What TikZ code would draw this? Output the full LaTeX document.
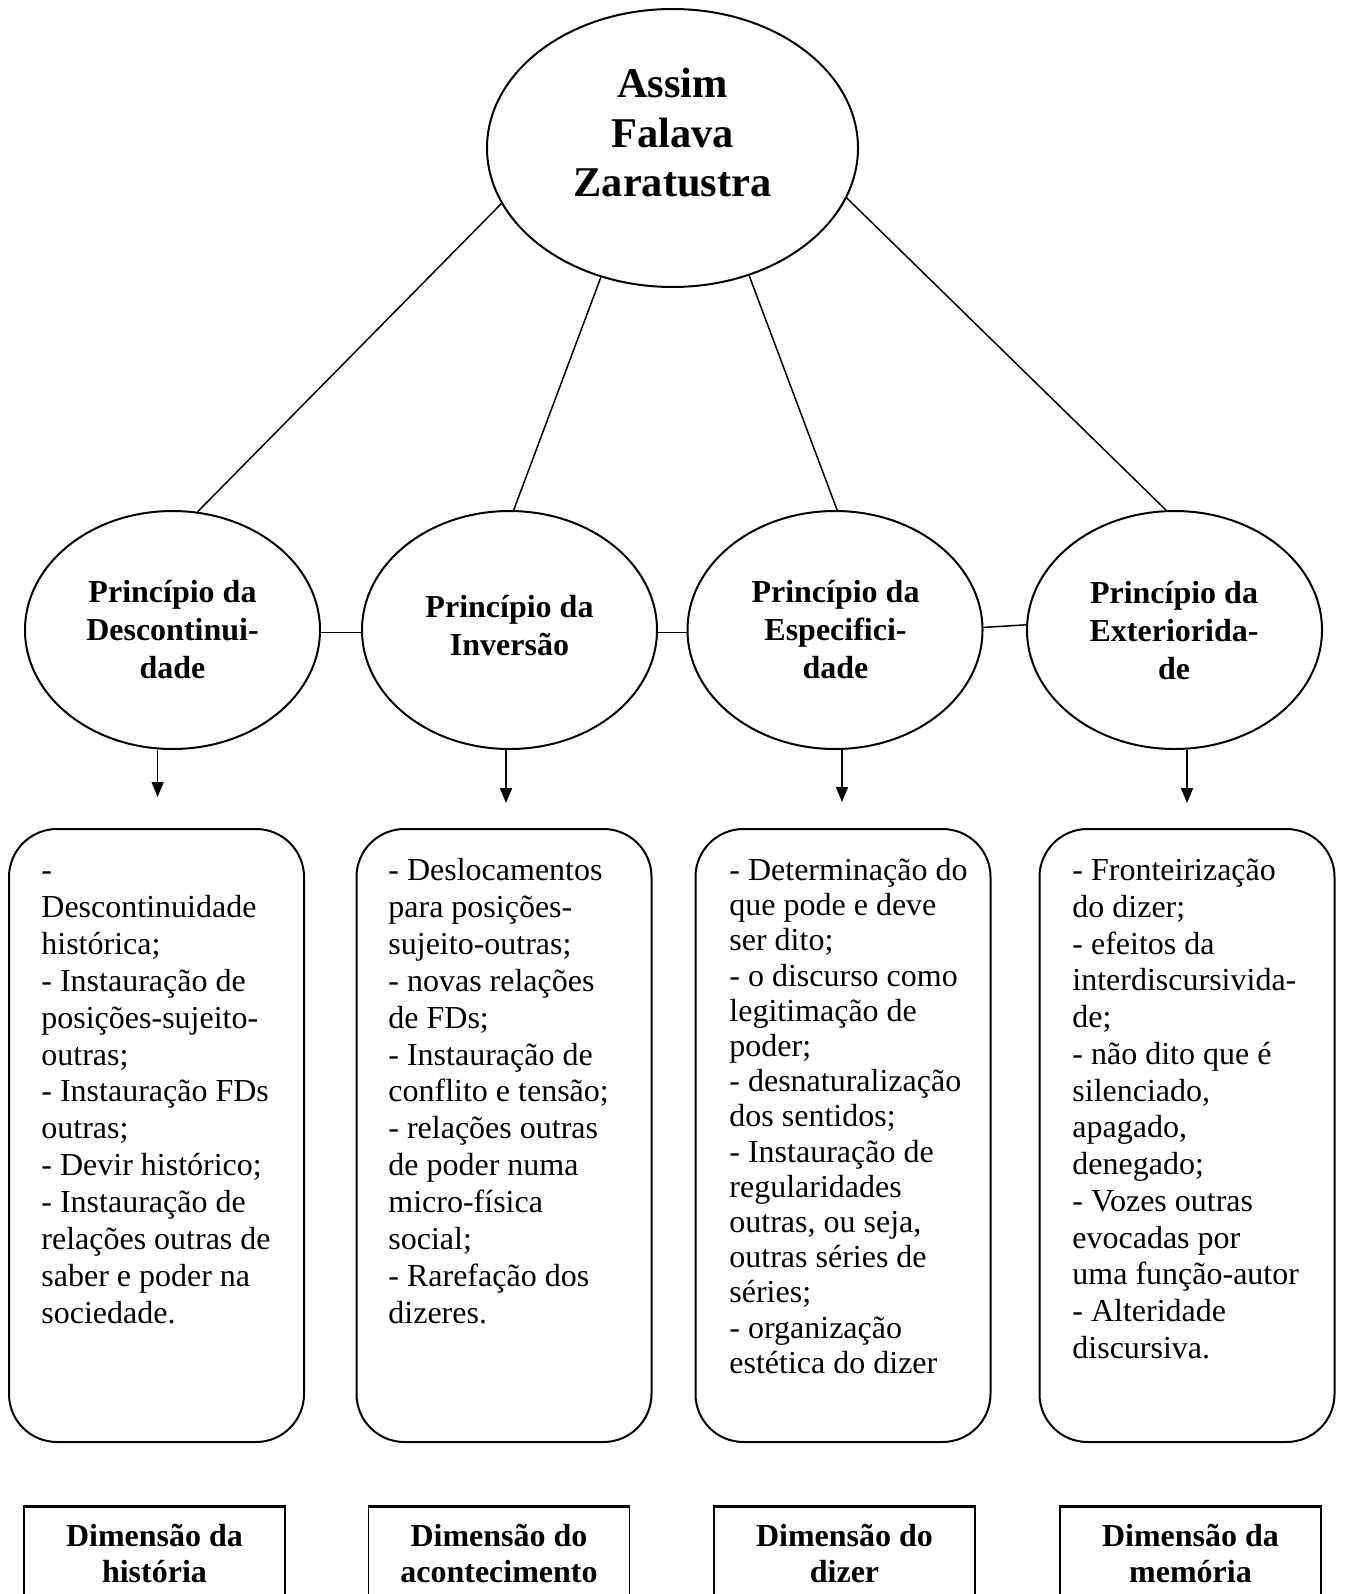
\documentclass[tikz,border=0pt]{standalone}
\usepackage{fontspec}
\setmainfont{Liberation Serif}
\usetikzlibrary{shapes.geometric,arrows.meta}
\begin{document}
\begin{tikzpicture}[x=0.5pt,y=-0.5pt,
  ell/.style={draw,ellipse,line width=1pt,minimum width=147.5pt,minimum height=119pt,inner sep=0pt},
  topell/.style={draw,ellipse,line width=1pt,minimum width=185.5pt,minimum height=139pt,inner sep=0pt},
  conn/.style={line width=0.75pt},
  arr/.style={line width=0.8pt,-{Triangle[length=7.5pt,width=6pt]}},
  ebox/.style={draw,line width=1pt,rounded corners=24pt,minimum width=147.5pt,minimum height=306.5pt,inner sep=0pt},
  btext/.style={anchor=base west,inner sep=0pt,align=left,font=\fontsize{16pt}{18.45pt}\selectfont},
  etext/.style={anchor=base,inner sep=0pt,align=center,font=\fontsize{16pt}{19pt}\selectfont\bfseries},
  ttext/.style={anchor=base,inner sep=0pt,align=center,font=\fontsize{21.2pt}{24.75pt}\selectfont\bfseries},
  dtext/.style={anchor=base,inner sep=0pt,align=center,font=\fontsize{16pt}{18.3pt}\selectfont\bfseries},
  dbox/.style={draw,line width=0.75pt,minimum width=130.5pt,minimum height=100pt,inner sep=0pt,anchor=north}
]
\useasboundingbox (0,0) rectangle (1344,1594);
\fill[white] (0,0) rectangle (1344,1594);

% top ellipse (text anchored at the baseline of its last line)
\node[topell] (top) at (672.5,148) {};
\node[ttext] (toptxt) at (672.5,197) {Assim\\Falava\\Zaratustra};

% principle ellipses
\node[ell] (e1) at (172.5,630) {};
\node[ell] (e2) at (509.5,630) {};
\node[ell] (e3) at (835,630) {};
\node[ell] (e4) at (1174.5,630) {};
\node[etext] (e1t) at (172.5,678) {Princípio da\\Descontinui-\\dade};
\node[etext] (e2t) at (509.5,655) {Princípio da\\Inversão};
\node[etext] (e3t) at (835.5,678) {Princípio da\\Especifici-\\dade};
\node[etext] (e4t) at (1174,679) {Princípio da\\Exteriorida-\\de};

% connectors from top
\draw[conn] (top.198.5) -- (e1.78.6);
\draw[conn] (top.241.7) -- (e2.88);
\draw[conn] (top.301.6) -- (e3.89);
\draw[conn] (top.344.4) -- (e4.94);

% horizontal connectors
\draw[conn] (e1.-1.4) -- (e2.181.4);
\draw[conn] (e2.-1.4) -- (e3.181.4);
\draw[conn] (e3.1.6) -- (e4.178.4);

% arrows
\coordinate (t1) at (157.6,797);
\coordinate (t2) at (506,803);
\coordinate (t3) at (842,802);
\coordinate (t4) at (1187,803);
\draw[arr] (t1 |- e1.south) -- (t1);
\draw[arr] (t2 |- e2.south) -- (t2);
\draw[arr] (t3 |- e3.south) -- (t3);
\draw[arr] (t4 |- e4.south) -- (t4);

% rounded boxes
\node[ebox] (b1) at (156.5,1135.5) {};
\node[ebox] (b2) at (504,1135.5) {};
\node[ebox] (b3) at (843,1135.5) {};
\node[ebox] (b4) at (1187,1135.5) {};

\node[btext] (b1t) at (41,1323.3) {-\\Descontinuidade\\histórica;\\- Instauração de\\posições-sujeito-\\outras;\\- Instauração FDs\\outras;\\- Devir histórico;\\- Instauração de\\relações outras de\\saber e poder na\\sociedade.};
\node[btext] (b2t) at (388,1323.3) {- Deslocamentos\\para posições-\\sujeito-outras;\\- novas relações\\de FDs;\\- Instauração de\\conflito e tensão;\\- relações outras\\de poder numa\\micro-física\\social;\\- Rarefação dos\\dizeres.};
\node[btext,font=\fontsize{16pt}{17.6pt}\selectfont] (b3t) at (729,1373.3) {- Determinação do\\que pode e deve\\ser dito;\\- o discurso como\\legitimação de\\poder;\\- desnaturalização\\dos sentidos;\\- Instauração de\\regularidades\\outras, ou seja,\\outras séries de\\séries;\\- organização\\estética do dizer};
\node[btext,font=\fontsize{16pt}{18.38pt}\selectfont] (b4t) at (1072,1358.4) {- Fronteirização\\do dizer;\\- efeitos da\\interdiscursivida-\\de;\\- não dito que é\\silenciado,\\apagado,\\denegado;\\- Vozes outras\\evocadas por\\uma função-autor\\- Alteridade\\discursiva.};

% dimension boxes (cut at bottom)
\begin{scope}
\clip (0,0) rectangle (1344,1594);
\node[dbox] (d1) at (154.5,1506) {};
\node[dbox] (d2) at (499,1506) {};
\node[dbox] (d3) at (844.5,1506) {};
\node[dbox] (d4) at (1190.5,1506) {};
\foreach \d in {d1,d2,d3,d4}{
  \draw[line width=1.5pt] (\d.north west) -- (\d.north east);
}
\end{scope}
\node[dtext] (d1t) at (154.5,1582.6) {Dimensão da\\história};
\node[dtext] (d2t) at (499,1582.6) {Dimensão do\\acontecimento};
\node[dtext] (d3t) at (844.5,1582.6) {Dimensão do\\dizer};
\node[dtext] (d4t) at (1190.5,1582.6) {Dimensão da\\memória};
\end{tikzpicture}
\end{document}
